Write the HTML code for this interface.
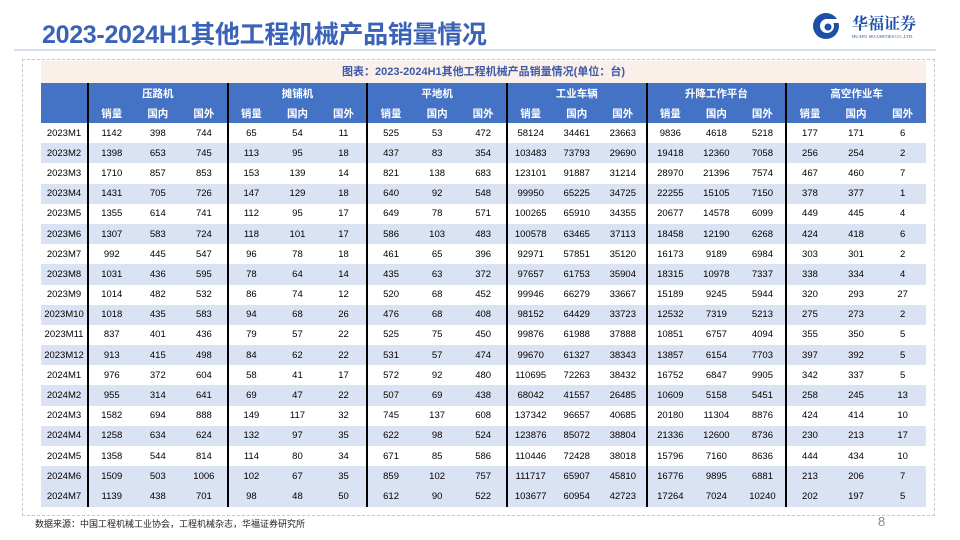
<!DOCTYPE html>
<html><head><meta charset="utf-8">
<style>
*{margin:0;padding:0;box-sizing:border-box}
body{width:960px;height:540px;background:#fff;font-family:"Liberation Sans","Noto Sans CJK SC",sans-serif;position:relative;overflow:hidden}
#title{position:absolute;left:42px;top:15px;font-size:25px;font-weight:bold;color:#3a63b8;letter-spacing:-0.3px}
#rule{position:absolute;left:14px;top:49px;width:922px;height:2px;background:#d5deef}
#box{position:absolute;left:22px;top:59px;width:913px;height:457px;border:1.5px dashed #c8c8c8}
#cap{position:absolute;left:41px;top:61px;width:885px;height:22px;background:#fbefea;color:#3a5aa8;font-size:11px;font-weight:bold;text-align:center;line-height:22px}
table{position:absolute;left:41px;top:83px;width:885px;border-collapse:collapse;table-layout:fixed;font-size:9.5px;color:#000}
th{background:#4472c4;color:#fff;font-size:10.5px;font-weight:bold;height:20px;padding:0}
td{text-align:center;height:20.2px;padding:0}
tr.alt td{background:#dae3f3}
.bl{border-left:2px solid #000}
#src{position:absolute;left:35px;top:517px;font-size:9px;color:#222}
#pg{position:absolute;left:878px;top:514px;font-size:13px;color:#888}
#logo{position:absolute;left:810px;top:10px;width:120px;height:34px}
</style></head><body>
<div id="title">2023-2024H1其他工程机械产品销量情况</div>
<div id="logo">
<svg width="120" height="34"><circle cx="16" cy="16" r="13" fill="#1d4fa8"/><circle cx="17" cy="16" r="7" fill="#fff"/><circle cx="18" cy="17" r="3.5" fill="#1d4fa8"/><rect x="15" y="9" width="14" height="4" fill="#fff"/>
<text x="42" y="19" font-size="16" font-weight="bold" fill="#1d4fa8" font-family="Noto Serif CJK SC, serif">华福证券</text>
<text x="42" y="28" font-size="4.5" fill="#1d4fa8" font-family="Liberation Serif, serif">HUAFU SECURITIES CO.,LTD.</text></svg></div>
<div id="rule"></div>
<div id="box"></div>
<div id="cap">图表：2023-2024H1其他工程机械产品销量情况(单位：台)</div>
<table id="tbl">
<colgroup><col style="width:47px"></colgroup>
<thead>
<tr><th rowspan="2"></th><th colspan="3" class="bl">压路机</th><th colspan="3" class="bl">摊铺机</th><th colspan="3" class="bl">平地机</th><th colspan="3" class="bl">工业车辆</th><th colspan="3" class="bl">升降工作平台</th><th colspan="3" class="bl">高空作业车</th></tr>
<tr id="sub"></tr>
</thead><tbody id="body"></tbody></table>
<div id="src">数据来源：中国工程机械工业协会，工程机械杂志，华福证券研究所</div>
<div id="pg">8</div>
<script>
const months=["2023M1","2023M2","2023M3","2023M4","2023M5","2023M6","2023M7","2023M8","2023M9","2023M10","2023M11","2023M12","2024M1","2024M2","2024M3","2024M4","2024M5","2024M6","2024M7"];
const rollers=[[1142,398,744],[1398,653,745],[1710,857,853],[1431,705,726],[1355,614,741],[1307,583,724],[992,445,547],[1031,436,595],[1014,482,532],[1018,435,583],[837,401,436],[913,415,498],[976,372,604],[955,314,641],[1582,694,888],[1258,634,624],[1358,544,814],[1509,503,1006],[1139,438,701]];
const pavers=[[65,54,11],[113,95,18],[153,139,14],[147,129,18],[112,95,17],[118,101,17],[96,78,18],[78,64,14],[86,74,12],[94,68,26],[79,57,22],[84,62,22],[58,41,17],[69,47,22],[149,117,32],[132,97,35],[114,80,34],[102,67,35],[98,48,50]];
const graders=[[525,53,472],[437,83,354],[821,138,683],[640,92,548],[649,78,571],[586,103,483],[461,65,396],[435,63,372],[520,68,452],[476,68,408],[525,75,450],[531,57,474],[572,92,480],[507,69,438],[745,137,608],[622,98,524],[671,85,586],[859,102,757],[612,90,522]];
const trucks=[[58124,34461,23663],[103483,73793,29690],[123101,91887,31214],[99950,65225,34725],[100265,65910,34355],[100578,63465,37113],[92971,57851,35120],[97657,61753,35904],[99946,66279,33667],[98152,64429,33723],[99876,61988,37888],[99670,61327,38343],[110695,72263,38432],[68042,41557,26485],[137342,96657,40685],[123876,85072,38804],[110446,72428,38018],[111717,65907,45810],[103677,60954,42723]];
const platforms=[[9836,4618,5218],[19418,12360,7058],[28970,21396,7574],[22255,15105,7150],[20677,14578,6099],[18458,12190,6268],[16173,9189,6984],[18315,10978,7337],[15189,9245,5944],[12532,7319,5213],[10851,6757,4094],[13857,6154,7703],[16752,6847,9905],[10609,5158,5451],[20180,11304,8876],[21336,12600,8736],[15796,7160,8636],[16776,9895,6881],[17264,7024,10240]];
const aerial=[[177,171,6],[256,254,2],[467,460,7],[378,377,1],[449,445,4],[424,418,6],[303,301,2],[338,334,4],[320,293,27],[275,273,2],[355,350,5],[397,392,5],[342,337,5],[258,245,13],[424,414,10],[230,213,17],[444,434,10],[213,206,7],[202,197,5]];
const subLabels=["销量","国内","国外"];
const groups=[rollers,pavers,graders,trucks,platforms,aerial];
const sub=document.getElementById('sub');
for(let g=0;g<6;g++){for(let k=0;k<3;k++){const th=document.createElement('th');


th.textContent=subLabels[k];if(k===0)th.className='bl';sub.appendChild(th);}}
const body=document.getElementById('body');
months.forEach((m,i)=>{const tr=document.createElement('tr');


if(i%2===1||i===18)tr.className='alt';
const td0=document.createElement('td');td0.textContent=m;


tr.appendChild(td0);
groups.forEach(arr=>{arr[i].forEach((v,k)=>{const td=document.createElement('td');


td.textContent=v;if(k===0)td.className='bl';tr.appendChild(td);});});
body.appendChild(tr);});
</script>
</body></html>
